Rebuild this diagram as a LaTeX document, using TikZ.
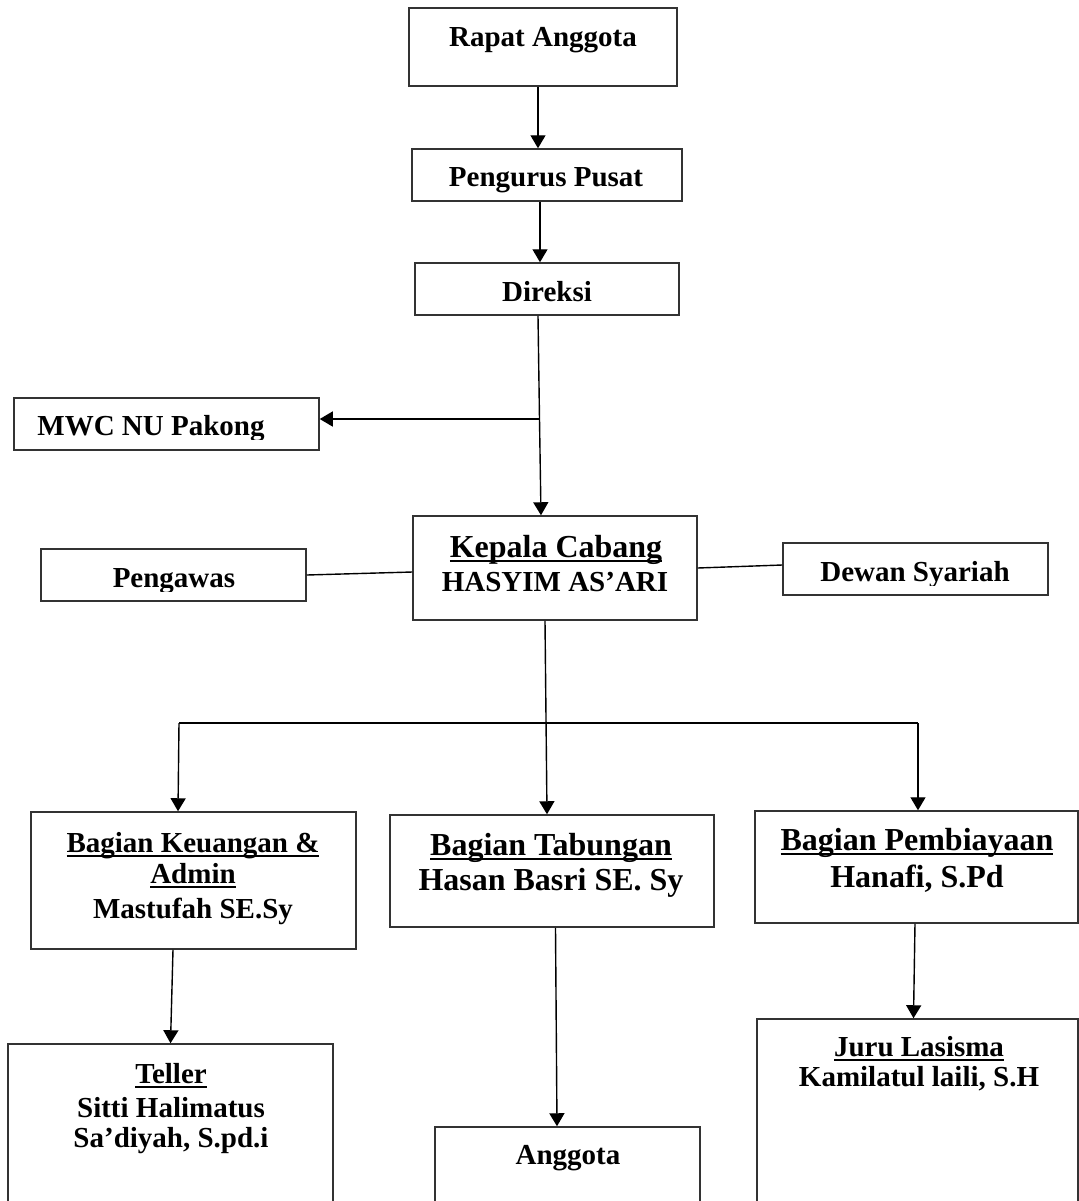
\documentclass[tikz,border=0pt]{standalone}
\usepackage{fontspec}
\setmainfont{Liberation Serif}
\usetikzlibrary{arrows.meta,calc}
\newcommand\ulx[1]{\setbox0\hbox{#1}\rlap{\rule[-2.4pt]{\wd0}{1.1pt}}\box0}
\newcommand\orgbox[5]{\node[box, minimum width={(#4-#2)*0.5pt}, minimum height={(#5-#3)*0.5pt}] (#1) at ({(#2+#4)/2},{(#3+#5)/2}) {};}
\tikzset{
 box/.style={draw=black!80, line width=0.75pt, inner sep=0pt},
 t/.style={inner sep=0pt, anchor=base, font=\bfseries\fontsize{14.5}{17}\selectfont},
 tb/.style={inner sep=0pt, anchor=base, font=\bfseries\fontsize{16}{19}\selectfont},
 arr/.style={line width=0.7pt, -{Triangle[length=6.5pt,width=7.5pt]}},
 ln/.style={line width=0.7pt},
}
\begin{document}
\begin{tikzpicture}[x=0.5pt,y=-0.5pt]
\useasboundingbox (0,0) rectangle (1079,1201);
\clip (0,0) rectangle (1079,1201);
% boxes
\orgbox{rapat}{409}{8}{677}{86}
\orgbox{pengurus}{412}{149}{682}{201}
\orgbox{direksi}{415}{263}{679}{315}
\orgbox{mwc}{14}{398}{319}{450}
\orgbox{pengawas}{41}{549}{306}{601}
\orgbox{kepala}{413}{516}{697}{620}
\orgbox{dewan}{783}{543}{1048}{595}
\orgbox{keu}{31}{812}{356}{949}
\orgbox{tab}{390}{815}{714}{927}
\orgbox{pemb}{755}{811}{1078}{923}
\orgbox{teller}{8}{1044}{333}{1215}
\orgbox{anggota}{435}{1127}{700}{1215}
\orgbox{juru}{757}{1019}{1078}{1215}
% texts
\node[t] (rapatT) at (543,46) {Rapat Anggota};
\node[t] (pengurusT) at (546,186) {Pengurus Pusat};
\node[t] (direksiT) at (547,301) {Direksi};
\begin{scope}
\clip (0,390) rectangle (330,439);
\node[t] (mwcT) at (151,435) {MWC NU Pakong};
\end{scope}
\begin{scope}
\clip (0,540) rectangle (330,591);
\node[t] (pengawasT) at (174,587) {Pengawas};
\end{scope}
\begin{scope}
\clip (770,535) rectangle (1079,585);
\node[t] (dewanT) at (915,581) {Dewan Syariah};
\end{scope}
\node[tb] (kepalaT1) at (556,557) {\ulx{Kepala Cabang}};
\node[t] (kepalaT2) at (555,591) {HASYIM AS’ARI};
\node[t] (keuT1) at (193,852) {\ulx{Bagian Keuangan \&}};
\node[t] (keuT2) at (193,883) {\ulx{Admin}};
\node[t] (keuT3) at (193,918) {Mastufah SE.Sy};
\node[tb] (tabT1) at (551,855) {\ulx{Bagian Tabungan}};
\node[tb] (tabT2) at (551,890) {Hasan Basri SE. Sy};
\node[tb] (pembT1) at (917,850) {\ulx{Bagian Pembiayaan}};
\node[tb] (pembT2) at (917,887) {Hanafi, S.Pd};
\node[t] (tellerT1) at (171,1083) {\ulx{Teller}};
\node[t] (tellerT2) at (171,1117) {Sitti Halimatus};
\node[t] (tellerT3) at (171,1147) {Sa’diyah, S.pd.i};
\node[t] (anggotaT) at (568,1164) {Anggota};
\node[t] (juruT1) at (919,1056) {\ulx{Juru Lasisma}};
\node[t] (juruT2) at (919,1086) {Kamilatul laili, S.H};
% connectors
\draw[arr] ([xshift=-2.5pt]rapat.south) -- ([xshift=-4.5pt]pengurus.north);
\draw[arr] ([xshift=-3.5pt]pengurus.south) -- ([xshift=-3.5pt]direksi.north);
\coordinate (br) at (539.5,419);
\draw[arr] ([xshift=-4.5pt]direksi.south) -- (br) -- ([xshift=-7pt]kepala.north);
\draw[arr] (br) -- (br -| mwc.east);
\draw[ln] (pengawas.east) -- ([yshift=-2pt]kepala.west);
\draw[ln] (kepala.east) -- ([yshift=2pt]dewan.west);
\draw[arr] ([xshift=-5pt]kepala.south) -- ([xshift=-2.5pt]tab.north);
\coordinate (bl) at (179,723);
\coordinate (bru) at (918,723);
\draw[ln] (bl) -- (bru);
\draw[arr] (bl) -- ([xshift=-7.75pt]keu.north);
\draw[arr] (bru) -- (bru |- pemb.north);
\draw[arr] ([xshift=-10.25pt]keu.south) -- (teller.north);
\draw[arr] ([xshift=1.75pt]tab.south) -- ([xshift=-5.25pt]anggota.north);
\draw[arr] ([xshift=-0.75pt]pemb.south) -- ([xshift=-2pt]juru.north);
\end{tikzpicture}
\end{document}
